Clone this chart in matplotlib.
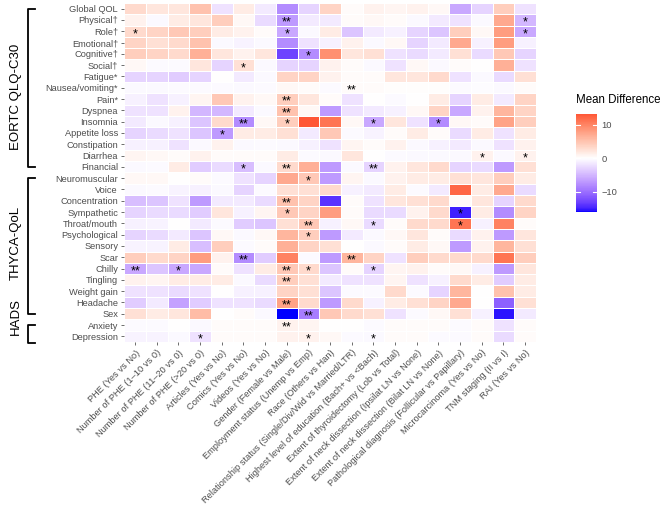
import matplotlib
matplotlib.use("Agg")
import matplotlib.pyplot as plt
import matplotlib.transforms as mtransforms
from matplotlib.colors import ListedColormap, Normalize
import numpy as np

#	Outcome rows, top to bottom
eortc_rows = ["Global QOL", "Physical†", "Role†", "Emotional†", "Cognitive†", "Social†",
	"Fatigue*", "Nausea/vomiting*", "Pain*", "Dyspnea", "Insomnia", "Appetite loss",
	"Constipation", "Diarrhea", "Financial"]
thyca_rows = ["Neuromuscular", "Voice", "Concentration", "Sympathetic", "Throat/mouth",
	"Psychological", "Sensory", "Scar", "Chilly", "Tingling", "Weight gain", "Headache", "Sex"]
hads_rows = ["Anxiety", "Depression"]

#	Comparison columns, left to right
comparisons = ["PHE (Yes vs No)", "Number of PHE (1–10 vs 0)", "Number of PHE (11–20 vs 0)",
	"Number of PHE (>20 vs 0)", "Articles (Yes vs No)", "Comics (Yes vs No)",
	"Videos (Yes vs No)", "Gender (Female vs Male)", "Employment status (Unemp vs Emp)",
	"Race (Others vs Han)", "Relationship status (Single/Div/Wid vs Married/LTR)",
	"Highest level of education (Bach+ vs <Bach)", "Extent of thyroidectomy (Lob vs Total)",
	"Extent of neck dissection (Ipsilat LN vs None)", "Extent of neck dissection (Bilat LN vs None)",
	"Pathological diagnosis (Follicular vs Papillary)", "Microcarcinoma (Yes vs No)",
	"TNM staging (II vs I)", "RAI (Yes vs No)"]

#	Mean differences
eortc_vals = [
	[3, 2, 2, 5, -2, 1.5, -1.5, -8, -3, 3.5, 0.3, 1, 0.8, 1, 0.5, -6, -3, 4, -2],
	[1, -0.5, 1.5, 2, 4, 0.5, -2.5, -7, -1.5, -1.5, 0.3, 0.5, 0.3, -0.5, -1.5, -2, -0.5, 7, -5],
	[3, 3.5, 4.5, 4, 1.5, 1, 0.3, -6, -0.5, 1.5, -4, -1.5, -1, -3, -4, 4, 0.5, 8, -6],
	[3.5, 2.5, 3, 5, -0.5, -0.8, -0.5, -8, -2, -1, 1, -0.5, 0.5, -3, -1.5, 7, -1, 8, -1],
	[4, 3.5, 3, 6.5, 2, 1, 2, -13, -8, 9, 2, 2.5, -2, -2.5, -1.5, 2.5, -2.5, 4.5, -3],
	[0.5, -0.3, -0.3, 2, -3, 2.5, -0.5, -3, -3, 1, 0.3, -0.5, -2, 0.5, -0.5, 0.3, 0, 6.5, -2],
	[-3, -3, -3.5, -3, 0, -1.5, -0.5, 3.5, 3.5, 1, 0.3, 0.3, 2, 2, 3, -2, -0.5, -2.5, 2.5],
	[-0.5, -0.5, -0.3, -0.3, -0.3, -0.5, -0.3, 0.5, 0.3, -0.3, 0.3, 0.3, 0.2, 0.2, 0.2, -0.3, -0.2, -0.5, 0.3],
	[-1, -2, -1, 0.8, 4.5, 1, 0.5, 4, 2, 0.3, -2, 0, -0.3, 0, 1.5, -3, 1.5, -1.5, 3.5],
	[-2, -2, 1, -5, -5, -1.5, -0.5, 5, 0.5, -7, -2, -1.5, -1, 0.5, 3.5, -6, 1, 6, 3.5],
	[-1.5, -0.5, -1, -4, 3, -8, 0.5, 4, 13, 11, 0.5, -6, 2, -2, -8, 0.5, 0.3, 7.5, 4],
	[-3, -2.5, -2, -4, -7, 1.5, 1.5, 2.5, -1.5, 4.5, -0.3, -0.8, 0.3, 1.5, 0.3, -2.5, 1.5, -2, 1.5],
	[-1, -1, -2, -0.5, 1, -0.5, -0.3, -0.5, -1, -2, 0.8, 0.3, 1, -0.5, -1, -1.5, -0.5, -2, 1],
	[0.8, 0.5, 0.3, 1, 0.3, 0.3, 0.3, 1.5, -0.3, -0.5, 2, 0, -0.3, -0.5, -0.5, -0.5, 1, -0.5, 1],
	[-0.5, -0.3, 1.5, -3.5, -2.5, -4.5, -0.5, 3, 6.5, -7, -0.5, -3, 1, 2, 3, -3, -2.5, -7, 2.5]]
thyca_vals = [
	[0.5, 0.5, 0, 0.3, -0.3, -2, -3, 7, 4.5, -7, 0.8, -0.5, 1, 1.5, 1.5, 2.5, 2, 4, 1.5],
	[-0.5, -0.3, -0.8, -1, -0.5, -3, -0.3, 2.5, 2.5, 3, -1, -1.5, 1.5, -0.3, -1.5, 12, 1.5, 7, -2.5],
	[-4.5, -4, -2, -7, -1.5, -1.5, -2.5, 5, 3.5, -14, 0.3, -2, 2, 2.5, 3, 0.3, 2, -3, 3],
	[-3, -2.5, -2.5, -3.5, 2, -1, 0.8, 4.5, 3.5, 8, 0.3, -2.5, -2.5, 1, 3, -15, 1.5, -8, 3.5],
	[-1, -0.8, 0, -1.5, -0.3, -3.5, -4, 2.5, 4.5, -1, 0.5, -2.5, 0.3, 3, 3, 11, -1, 10, 0.3],
	[-3, -2.5, -1.5, -4, 0.5, -0.5, 0.5, 6, 4, -7, -1.5, -0.5, 0.5, 2, 0.3, -2.5, 1, -7, 2],
	[-0.8, -0.8, 1.5, -4.5, 4, -0.3, 0.3, 6.5, 3.5, 2.5, 0, -0.5, 0.3, 1.5, 0.5, -7, 1, 6, 2.5],
	[4, 3, 3.5, 8, 1, -8, -3.5, 10, -0.3, -7, 6, 3.5, -2, 4, 3, 3, 3, 11, 4],
	[-6, -4, -6, -6, 0.3, -2, 1.5, 4.5, 3, -4, 0.3, -3, 0.8, 1, 0.3, 0.5, -1, -7, 2],
	[1, 0.8, 1.5, 1.5, 1.5, -0.5, -2.5, 4, 2.5, -1.5, -2, -2, 0.8, -2, -1, 3, 1.5, -3.5, 1.5],
	[-2, -2, -2.5, -2, 0, -1, -1, 3.5, 2.5, -4, -0.3, -0.3, 3, -0.3, -3, 6, 0, 5, 1.5],
	[-3.5, -1.5, -6.5, -3.5, -2, -2, -2.5, 7.5, 3, -7, 3, -1, 1.5, 2.5, 3.5, 7, 0, -11, 2.5],
	[2.5, 1.5, 2, 5.5, 0, 0.3, -0.5, -16, -9, 4.5, 3, 2.5, -2, -0.3, 0.5, 2.5, -1, -15.5, -1.5]]
hads_vals = [
	[-0.3, -0.3, 0, -0.5, 0.3, 0.3, 0.3, 1, 0.8, 0, 0, -0.3, 0.3, 0.3, 0.3, -0.3, 0.3, -2, 0.3],
	[-0.8, -0.8, -0.5, -2, 0.3, 0.3, 0.3, 1, 1, 0.5, -0.3, -0.5, 0.3, 0.3, -0.3, -0.3, 0.3, -2.5, 0.3]]

#	Significance marks: (row label, column index, mark)
sig_marks = [("Physical†", 7, "**"), ("Physical†", 18, "*"), ("Role†", 0, "*"), ("Role†", 7, "*"),
	("Role†", 18, "*"), ("Cognitive†", 8, "*"), ("Social†", 5, "*"), ("Nausea/vomiting*", 10, "**"),
	("Pain*", 7, "**"), ("Dyspnea", 7, "**"), ("Insomnia", 5, "**"), ("Insomnia", 7, "*"),
	("Insomnia", 11, "*"), ("Insomnia", 14, "*"), ("Appetite loss", 4, "*"), ("Diarrhea", 16, "*"),
	("Diarrhea", 18, "*"), ("Financial", 5, "*"), ("Financial", 7, "**"), ("Financial", 11, "**"),
	("Neuromuscular", 8, "*"), ("Concentration", 7, "**"), ("Sympathetic", 7, "*"),
	("Sympathetic", 15, "*"), ("Throat/mouth", 8, "**"), ("Throat/mouth", 11, "*"),
	("Throat/mouth", 15, "*"), ("Psychological", 8, "*"), ("Scar", 5, "**"), ("Scar", 10, "**"),
	("Chilly", 0, "**"), ("Chilly", 2, "*"), ("Chilly", 7, "**"), ("Chilly", 8, "*"),
	("Chilly", 11, "*"), ("Tingling", 7, "**"), ("Headache", 7, "**"), ("Sex", 8, "**"),
	("Anxiety", 7, "**"), ("Depression", 3, "*"), ("Depression", 8, "*"), ("Depression", 11, "*")]

legend_ticks = [-10, 0, 10]


#	sRGB <-> CIELAB, so the ramp blends like ggplot's gradient2
def srgbToLab(rgb):
	rgb = np.asarray(rgb, float)
	lin = np.where(rgb <= 0.04045, rgb / 12.92, ((rgb + 0.055) / 1.055) ** 2.4)
	m = np.array([[0.4124, 0.3576, 0.1805], [0.2126, 0.7152, 0.0722], [0.0193, 0.1192, 0.9505]])
	xyz = m @ lin / np.array([0.95047, 1.0, 1.08883])
	f = np.where(xyz > 0.008856, np.cbrt(xyz), 7.787 * xyz + 16 / 116)
	return np.array([116 * f[1] - 16, 500 * (f[0] - f[1]), 200 * (f[1] - f[2])])


def labToSrgb(lab):
	fy = (lab[0] + 16) / 116
	f = np.array([fy + lab[1] / 500, fy, fy - lab[2] / 200])
	xyz = np.where(f ** 3 > 0.008856, f ** 3, (f - 16 / 116) / 7.787) * np.array([0.95047, 1.0, 1.08883])
	m = np.array([[3.2406, -1.5372, -0.4986], [-0.9689, 1.8758, 0.0415], [0.0557, -0.2040, 1.0570]])
	lin = np.clip(m @ xyz, 0, 1)
	rgb = np.where(lin <= 0.0031308, 12.92 * lin, 1.055 * lin ** (1 / 2.4) - 0.055)
	return np.clip(rgb, 0, 1)


def gradient2(n=256):
	blue, white, red = srgbToLab([0, 0, 1]), srgbToLab([1, 1, 1]), srgbToLab([1, 0, 0])
	cols = []
	for t in np.linspace(0, 1, n):
		if t < 0.5:
			lab = blue + (white - blue) * (t / 0.5)
		else:
			lab = white + (red - white) * ((t - 0.5) / 0.5)
		cols.append(labToSrgb(lab))
	return ListedColormap(cols)


def main():
	plt.rcParams["font.family"] = ["Liberation Sans", "DejaVu Sans"]
	rows = eortc_rows + thyca_rows + hads_rows
	vals = np.array(eortc_vals + thyca_vals + hads_vals, float)
	nRow, nCol = vals.shape

	fig = plt.figure(figsize=(6.69, 5.2), dpi=100)
	ax = fig.add_axes([0.1858, 0.3423, 0.6154, 0.652])
	cmap = gradient2()
	lim = np.abs(vals).max()
	norm = Normalize(-lim, lim)
	mesh = ax.pcolormesh(np.arange(nCol + 1) - 0.5, np.arange(nRow + 1) - 0.5, vals,
		cmap=cmap, norm=norm, edgecolors="white", linewidth=0.4)
	ax.set_xlim(-0.5, nCol - 0.5)
	ax.set_ylim(nRow - 0.5, -0.5)

#	Significance stars
	for label, col, mark in sig_marks:
		ax.text(col, rows.index(label) + 0.25, mark, ha="center", va="center", fontsize=9, color="black")

#	Axes styling
	ax.set_yticks(np.arange(nRow))
	ax.set_yticklabels(rows)
	ax.set_xticks(np.arange(nCol))
	ax.set_xticklabels(comparisons, rotation=45, ha="right", rotation_mode="anchor")
	ax.tick_params(labelsize=6.7, labelcolor="#4D4D4D", color="#333333", length=2.5, width=0.5, pad=2)
	for s in ax.spines.values():
		s.set_visible(False)

#	Brackets for the questionnaires
	tr = mtransforms.blended_transform_factory(fig.transFigure, ax.transData)
	xv, xh = 28 / 669, 35 / 669
	for name, first, last, ytext in [("EORTC QLQ-C30", 0, 14, 7.8), ("THYCA-QoL", 15, 27, 20.7),
		("HADS", 28, 29.55, 27.2)]:
		ax.plot([xh, xv, xv, xh], [first, first, last, last], transform=tr, color="black",
			linewidth=1.3, clip_on=False)
		ax.text(16 / 669, ytext, name, transform=tr, rotation=90, ha="center", va="center", fontsize=9.5)

#	Legend colour bar
	cax = fig.add_axes([0.861, 0.592, 0.0314, 0.188])
	cb = fig.colorbar(mesh, cax=cax, boundaries=np.linspace(vals.min(), vals.max(), 256))
	cb.outline.set_visible(False)
	cb.set_ticks(legend_ticks)
	cax.tick_params(length=0, labelsize=6.7, labelcolor="#4D4D4D", pad=3)
	for t in legend_ticks:
		cax.plot([0, 0.2], [t, t], color="white", linewidth=0.8, transform=cax.get_yaxis_transform())
		cax.plot([0.8, 1], [t, t], color="white", linewidth=0.8, transform=cax.get_yaxis_transform())
	fig.text(576 / 669, 1 - 100 / 520, "Mean Difference", fontsize=8.3, ha="left", va="center")

	fig.savefig("out.png", dpi=100)


main()
